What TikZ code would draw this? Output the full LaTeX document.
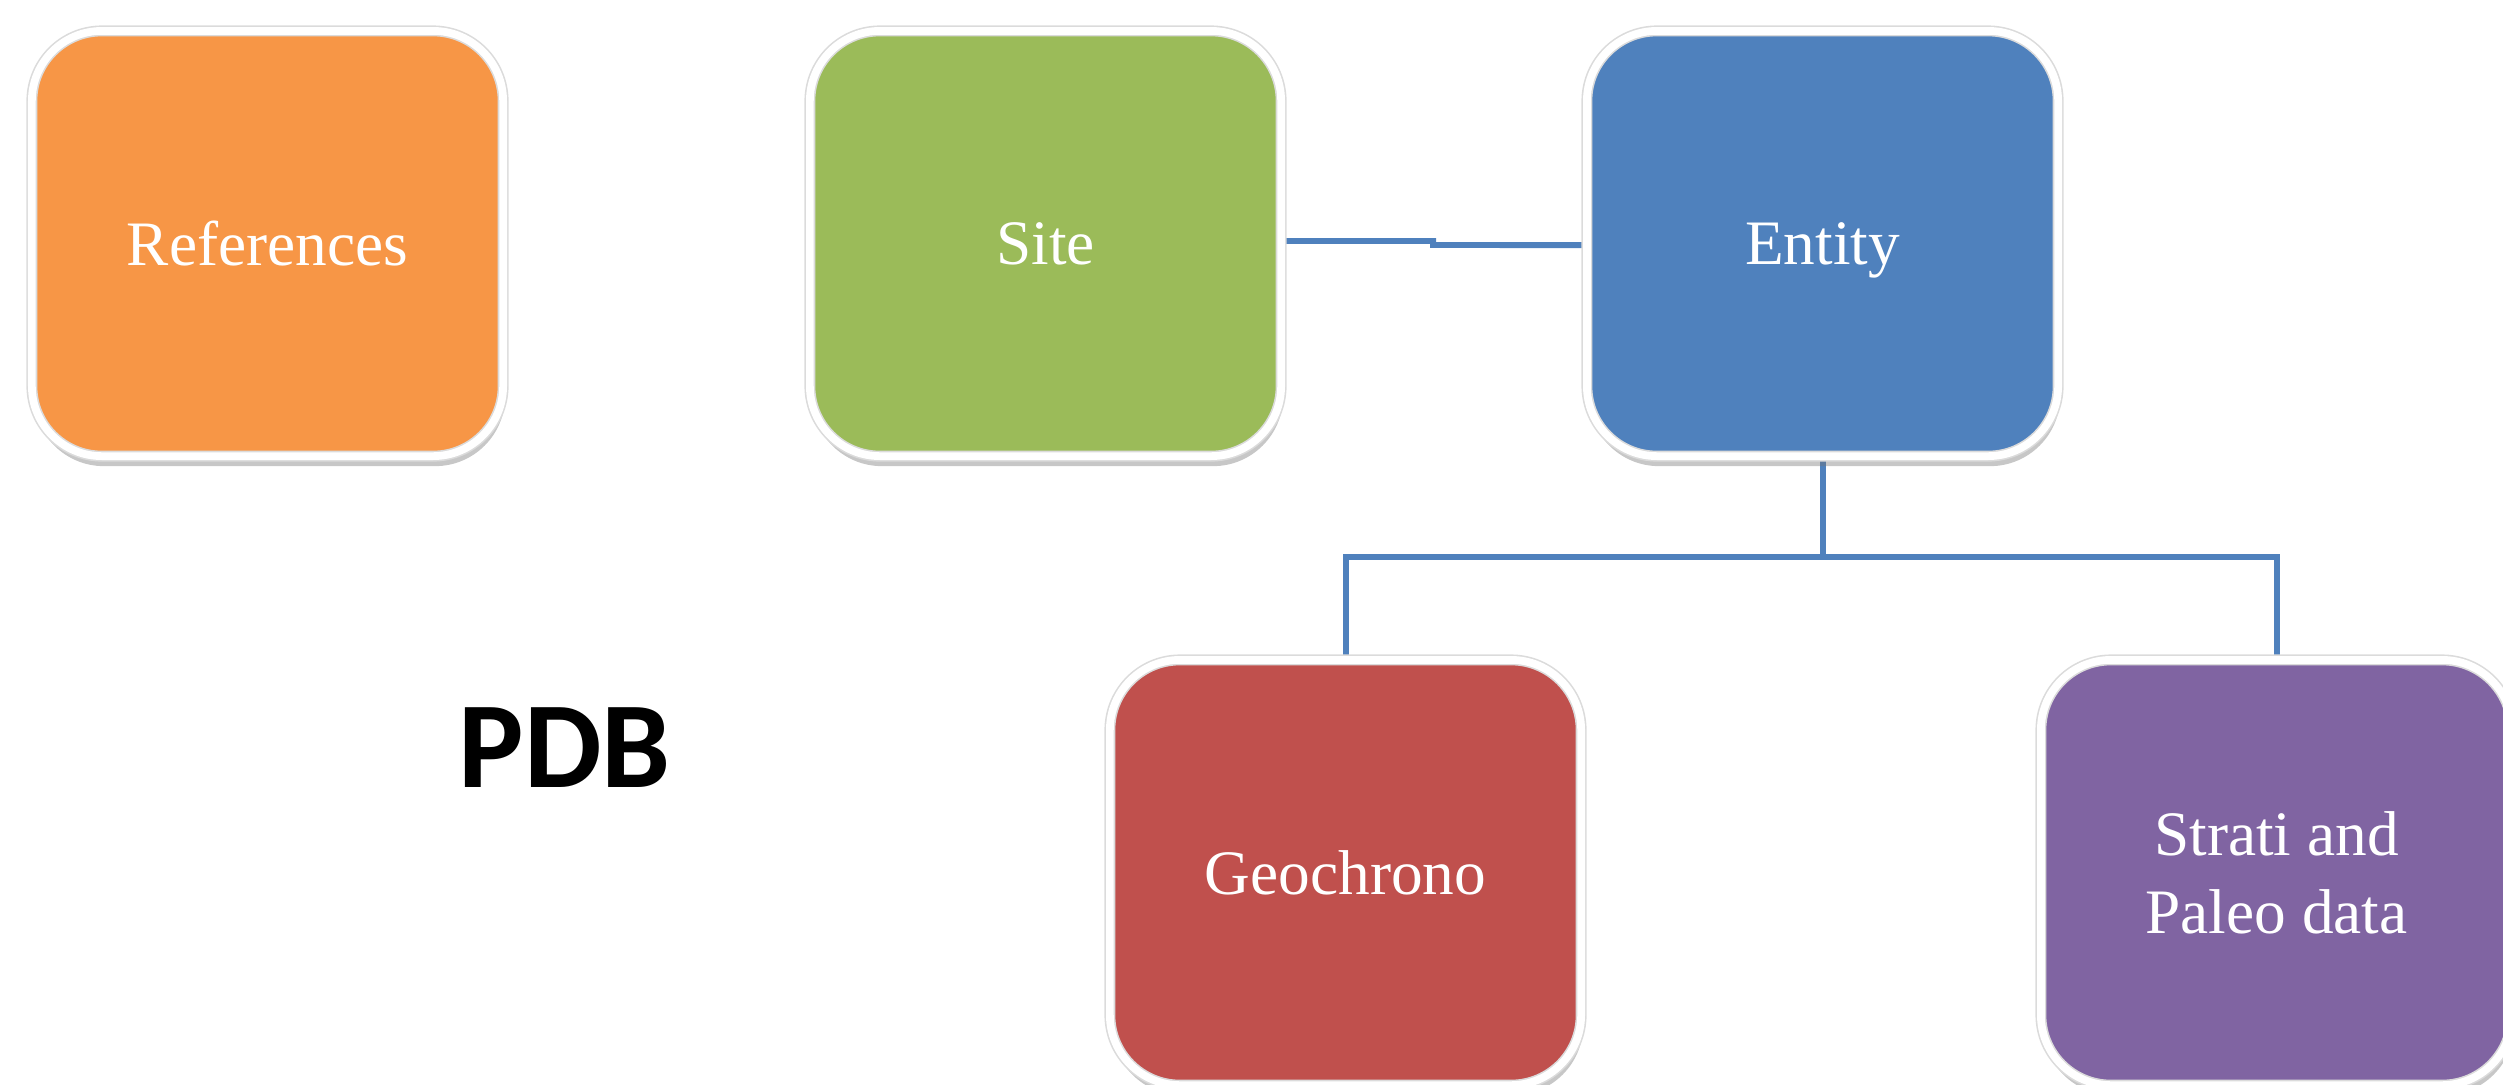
\documentclass[tikz,border=0pt]{standalone}
\usepackage{fontspec}
\setmainfont{Liberation Serif}
\newfontfamily\pdbfont{Carlito}
\usetikzlibrary{shadows,backgrounds}
\definecolor{cOrange}{HTML}{F79646}
\definecolor{cGreen}{HTML}{9BBB59}
\definecolor{cBlue}{HTML}{4F81BD}
\definecolor{cRed}{HTML}{C0504D}
\definecolor{cPurple}{HTML}{8064A2}
\tikzset{
  box/.style={draw=black!14, line width=0.45pt, double=white, double distance=2.2pt,
    rounded corners=0.7cm,
    minimum width=4.71cm, minimum height=4.25cm, inner sep=0pt, text depth=0pt,
    text=white, font=\fontsize{18}{22}\selectfont, align=center,
    drop shadow={opacity=0.4, shadow xshift=0.02cm, shadow yshift=-0.1cm, fill=black!55}},
  conn/.style={draw=cBlue, line width=1.7pt}
}
\begin{document}
\begin{tikzpicture}[x=0.01cm, y=-0.01cm]
\useasboundingbox (0,0) rectangle (2503,1084);
\node[box, fill=cOrange] (ref) at (267.5,243.5) {References};
\node[box, fill=cGreen] (site) at (1045.5,243.5) {Site};
\node[box, fill=cBlue] (entity) at (1822.5,243.5) {Entity};
\node[box, fill=cRed] (geo) at (1345.5,872.5) {Geochrono};
\node[box, fill=cPurple] (strati) at (2276.5,872.5) {Strati and\\Paleo data};
\node[font=\pdbfont\bfseries\fontsize{35}{40}\selectfont, inner sep=0pt] (pdb) at (565,748) {PDB};
\begin{scope}[on background layer]
\draw[conn] ([yshift=0.025cm]site.east) -- (1433,241) -- (1433,245) -- ([yshift=-0.015cm]entity.west);
\draw[conn] (entity.south) -- ++(0,100) coordinate (bus);
\draw[conn] (geo.north) |- (bus) -| (strati.north);
\end{scope}
\end{tikzpicture}
\end{document}
